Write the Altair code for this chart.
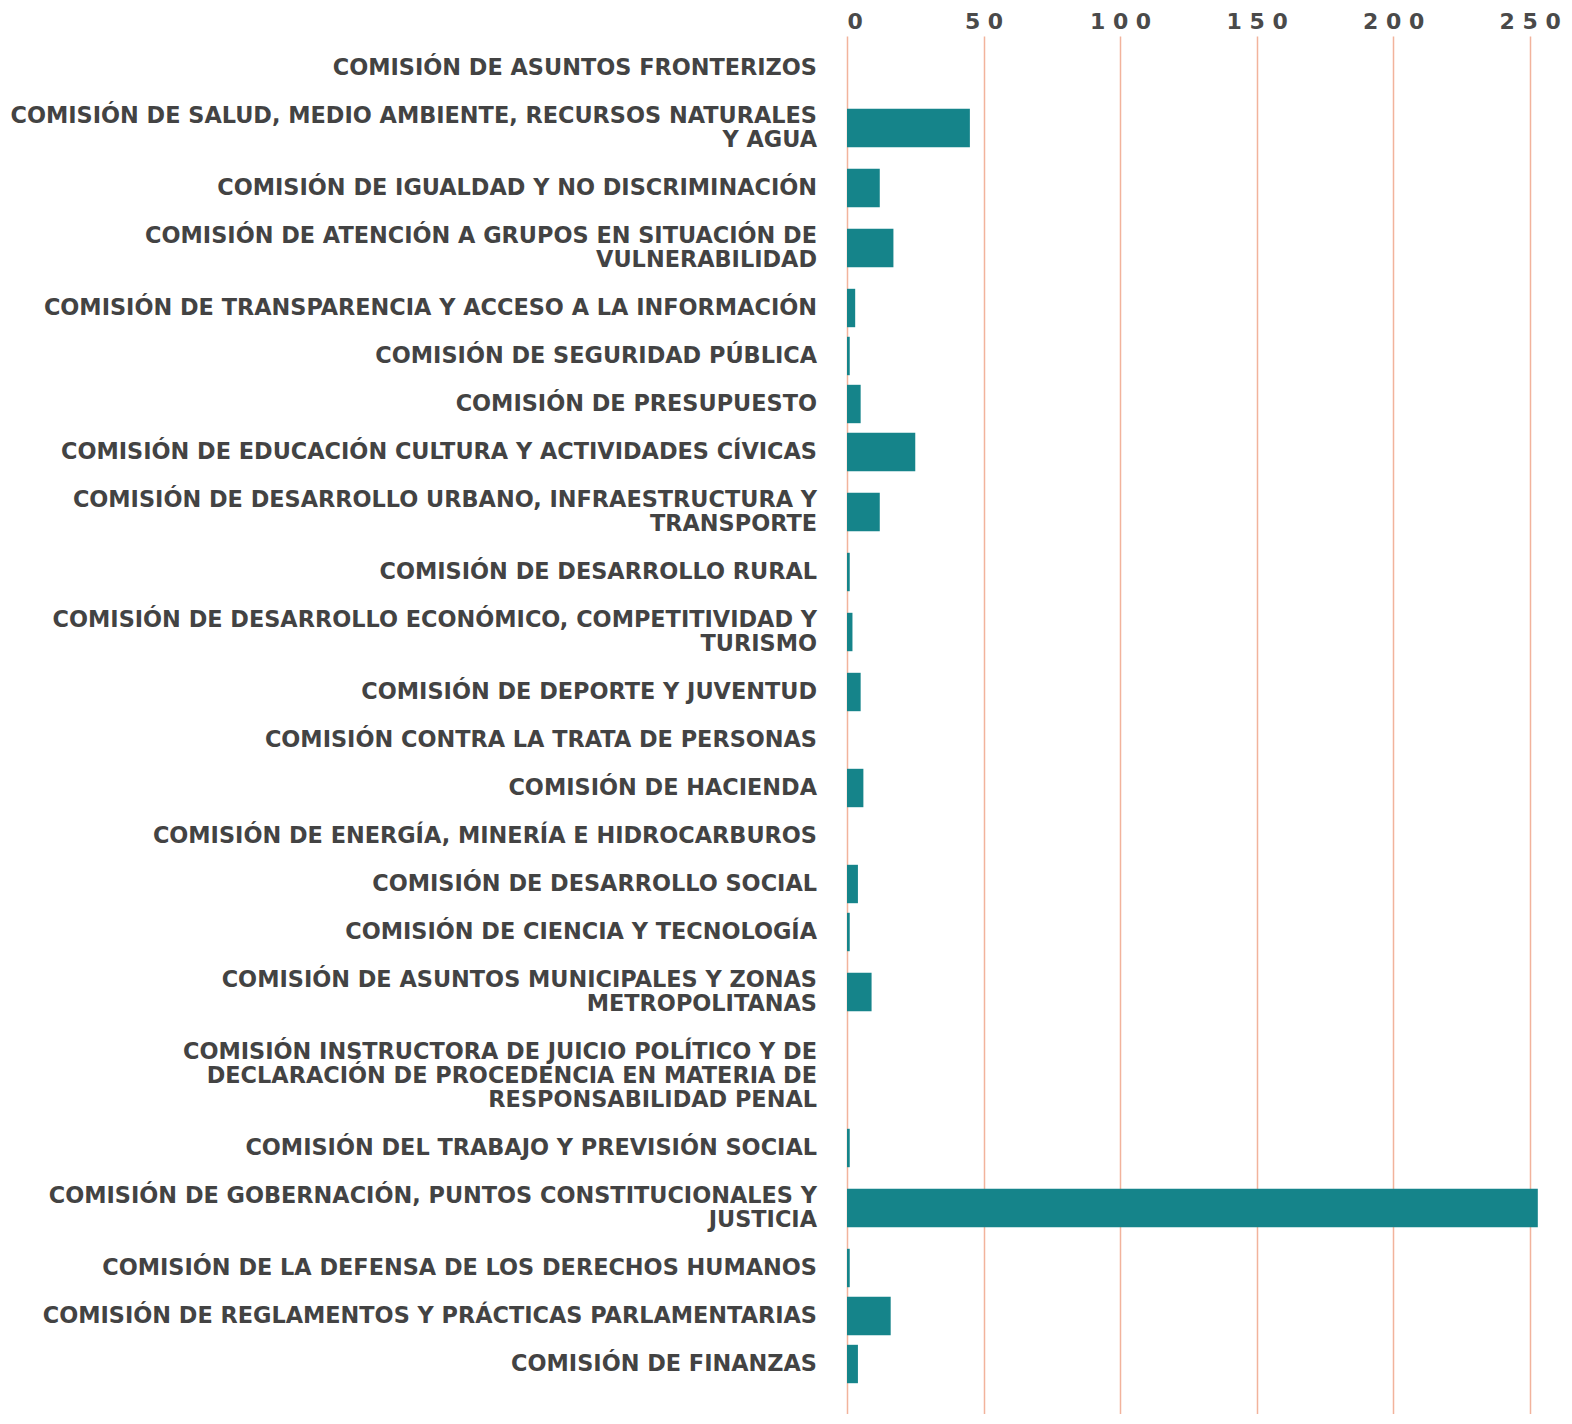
import altair as alt
import pandas as pd

labels = [
    "COMISIÓN DE ASUNTOS FRONTERIZOS",
    "COMISIÓN DE SALUD, MEDIO AMBIENTE, RECURSOS NATURALES\nY AGUA",
    "COMISIÓN DE IGUALDAD Y NO DISCRIMINACIÓN",
    "COMISIÓN DE ATENCIÓN A GRUPOS EN SITUACIÓN DE\nVULNERABILIDAD",
    "COMISIÓN DE TRANSPARENCIA Y ACCESO A LA INFORMACIÓN",
    "COMISIÓN DE SEGURIDAD PÚBLICA",
    "COMISIÓN DE PRESUPUESTO",
    "COMISIÓN DE EDUCACIÓN CULTURA Y ACTIVIDADES CÍVICAS",
    "COMISIÓN DE DESARROLLO URBANO, INFRAESTRUCTURA Y\nTRANSPORTE",
    "COMISIÓN DE DESARROLLO RURAL",
    "COMISIÓN DE DESARROLLO ECONÓMICO, COMPETITIVIDAD Y\nTURISMO",
    "COMISIÓN DE DEPORTE Y JUVENTUD",
    "COMISIÓN CONTRA LA TRATA DE PERSONAS",
    "COMISIÓN DE HACIENDA",
    "COMISIÓN DE ENERGÍA, MINERÍA E HIDROCARBUROS",
    "COMISIÓN DE DESARROLLO SOCIAL",
    "COMISIÓN DE CIENCIA Y TECNOLOGÍA",
    "COMISIÓN DE ASUNTOS MUNICIPALES Y ZONAS\nMETROPOLITANAS",
    "COMISIÓN INSTRUCTORA DE JUICIO POLÍTICO Y DE\nDECLARACIÓN DE PROCEDENCIA EN MATERIA DE\nRESPONSABILIDAD PENAL",
    "COMISIÓN DEL TRABAJO Y PREVISIÓN SOCIAL",
    "COMISIÓN DE GOBERNACIÓN, PUNTOS CONSTITUCIONALES Y\nJUSTICIA",
    "COMISIÓN DE LA DEFENSA DE LOS DERECHOS HUMANOS",
    "COMISIÓN DE REGLAMENTOS Y PRÁCTICAS PARLAMENTARIAS",
    "COMISIÓN DE FINANZAS",
]

values = [0, 45, 12, 17, 3, 1, 5, 25, 12, 1, 2, 5, 0, 6, 0, 4, 1, 9, 0, 1, 253, 1, 16, 4]

x_ticks = [0, 50, 100, 150, 200, 250]

# Row layout: each row occupies (number of text lines + 1) line units
rows = []
cum = 0.0
for lab, v in zip(labels, values):
    n = lab.count("\n") + 1
    h = n + 1
    center = cum + h / 2
    cum += h
    rows.append({"label": lab, "value": v, "yc": center,
                 "yt": center - (n - 1) / 2,
                 "y0": center - 0.8, "y1": center + 0.8})
df = pd.DataFrame(rows)

UNIT = 24
H = 1378
y_lo = -1.0 / 3.0
y_hi = y_lo + H / UNIT

yscale = alt.Scale(domain=[y_lo, y_hi], reverse=True, nice=False, zero=False)

FONT = "DejaVu Sans"
TXT = "#434343"

bars = alt.Chart(df).mark_bar(color="#15848a").encode(
    x=alt.X("value:Q",
            scale=alt.Scale(domain=[0, 256], nice=False),
            axis=alt.Axis(orient="top", values=x_ticks, title=None,
                          domain=False, ticks=False,
                          grid=True, gridColor="#f2b39c", gridWidth=1.5,
                          labelFont=FONT, labelFontSize=22, labelFontWeight="bold",
                          labelColor="#4a4a4a", labelPadding=8,
                          labelBaseline="alphabetic",
                          labelExpr="join(split(datum.label, ''), ' ')")),
    x2=alt.datum(0),
    y=alt.Y("y0:Q", scale=yscale, axis=None),
    y2="y1:Q",
)

text = alt.Chart(df).mark_text(
    align="right", baseline="middle", lineBreak="\n", lineHeight=24,
    font=FONT, fontSize=22.4, fontWeight="bold", color=TXT,
).encode(
    x=alt.value(-30),
    y=alt.Y("yt:Q", scale=yscale, axis=None),
    text="label:N",
)

chart = alt.layer(bars, text).properties(
    width=699, height=H,
    autosize=alt.AutoSizeParams(type="none"),
    padding={"left": 839, "top": 28, "right": 18, "bottom": 0},
).configure_view(stroke=None)

chart.save("out.html", embed_options={"renderer": "svg", "actions": False})
